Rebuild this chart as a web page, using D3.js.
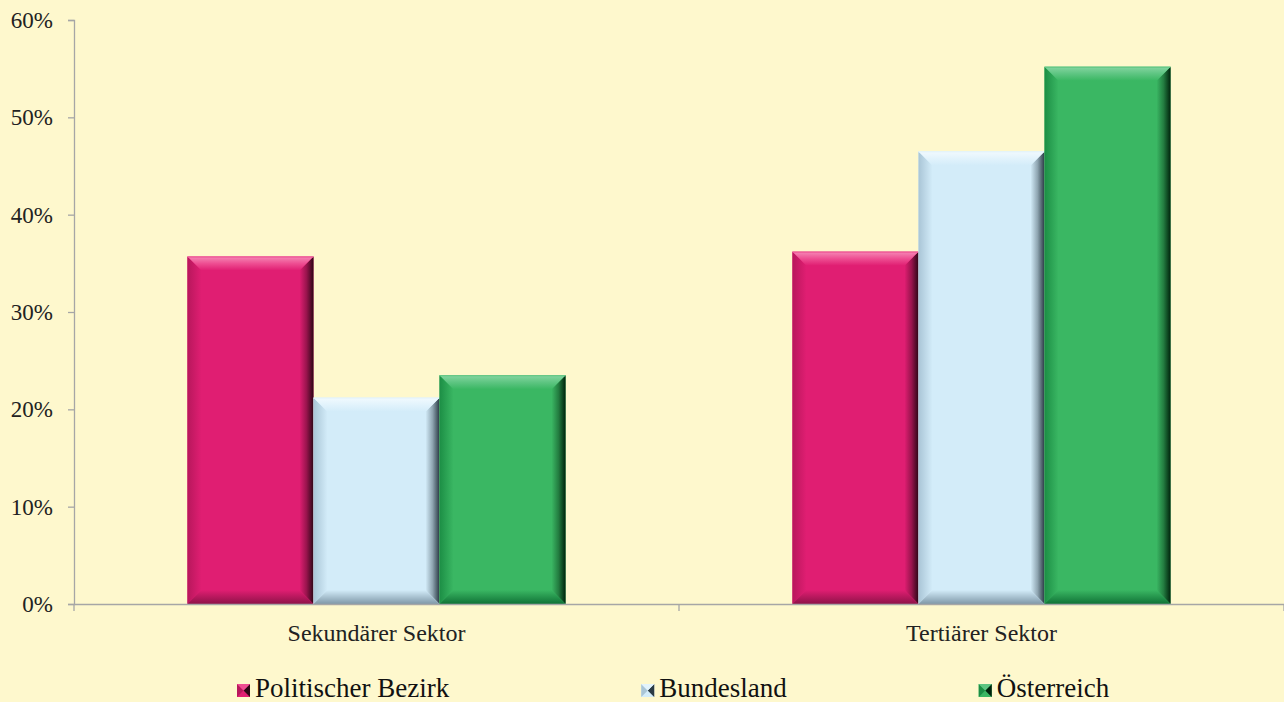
<!DOCTYPE html>
<html><head><meta charset="utf-8">
<script src="https://cdn.jsdelivr.net/npm/d3@7"></script>
<style>html,body{margin:0;padding:0;background:#FEF8CD;}svg{display:block;}</style>
</head><body>
<svg id="c" width="1284" height="702"></svg>
<script>
const categories = ["Sekundärer Sektor", "Tertiärer Sektor"];
const seriesNames = ["Politischer Bezirk", "Bundesland", "Österreich"];
const politischerBezirk = [35.7, 36.2];
const bundesland = [21.2, 46.5];
const oesterreich = [23.5, 55.2];
const yTicks = [0, 10, 20, 30, 40, 50, 60];

const seriesValues = [politischerBezirk, bundesland, oesterreich];
const palette = [
  {base:"#E01E72", top:"#EE4E92", hi:"#F58AB6", left:"#B8175C", right:"#2E0616", bottom:"#8E1248"},
  {base:"#D3ECF9", top:"#E2F3FC", hi:"#F2FAFE", left:"#A9C5D6", right:"#2A3A44", bottom:"#7F98A8"},
  {base:"#3AB763", top:"#5EC582", hi:"#86D6A2", left:"#1C8E45", right:"#00230C", bottom:"#107236"}
];

const svg = d3.select("#c");
const W = 1284, H = 702;
const m = {left:74, right:0, top:20, bottom:98};
const ih = H - m.top - m.bottom;
svg.append("rect").attr("width",W).attr("height",H).attr("fill","#FEF8CD");

const x0 = d3.scaleBand().domain(categories).range([m.left, W - m.right]).paddingInner(0).paddingOuter(0);
const bw = x0.bandwidth()/(3+1.8);
const groupOffset = (x0.bandwidth() - 3*bw)/2;
const y = d3.scaleLinear().domain([0,60]).range([m.top + ih, m.top]);

const defs = svg.append("defs");
palette.forEach((p,i)=>{
  const gr = defs.append("linearGradient").attr("id","gr"+i).attr("x1","0").attr("x2","1").attr("y1","0").attr("y2","0");
  gr.append("stop").attr("offset","0").attr("stop-color",p.base);
  gr.append("stop").attr("offset","0.5").attr("stop-color",d3.interpolateRgb(p.base,p.right)(0.4));
  gr.append("stop").attr("offset","1").attr("stop-color",p.right);
  const gl = defs.append("linearGradient").attr("id","gl"+i).attr("x1","0").attr("x2","1").attr("y1","0").attr("y2","0");
  gl.append("stop").attr("offset","0").attr("stop-color",p.left);
  gl.append("stop").attr("offset","1").attr("stop-color",p.base);
  const gt = defs.append("linearGradient").attr("id","gt"+i).attr("x1","0").attr("x2","0").attr("y1","0").attr("y2","1");
  gt.append("stop").attr("offset","0").attr("stop-color",p.hi);
  gt.append("stop").attr("offset","0.5").attr("stop-color",p.top);
  gt.append("stop").attr("offset","1").attr("stop-color",p.base);
  const gb = defs.append("linearGradient").attr("id","gb"+i).attr("x1","0").attr("x2","0").attr("y1","0").attr("y2","1");
  gb.append("stop").attr("offset","0").attr("stop-color",p.base);
  gb.append("stop").attr("offset","1").attr("stop-color",p.bottom);
});

const FONT = '"Liberation Serif"';

// Y axis
const yAxis = d3.axisLeft(y).tickValues(yTicks).tickSize(6).tickFormat(d=>d+"%");
const gy = svg.append("g").attr("transform",`translate(${m.left},0)`).call(yAxis);
gy.select(".domain").attr("stroke","#A6A6A6").attr("stroke-width",1.3);
gy.selectAll(".tick line").attr("stroke","#A6A6A6").attr("stroke-width",1.3);
gy.selectAll(".tick text").attr("x",-21).attr("dy","0.33em")
  .style("font-family",FONT).attr("font-size",23).attr("fill","#222");

// bars
const bev = 14;
categories.forEach((c,ci)=>{
  seriesValues.forEach((vals,si)=>{
    const v = vals[ci];
    const xL = x0(c) + groupOffset + si*bw, xR = xL + bw;
    const yT = y(v), yB = y(0);
    const g = svg.append("g");
    const b = Math.min(bev, (yB-yT)/2);
    g.append("rect").attr("x",xL).attr("y",yT).attr("width",bw).attr("height",yB-yT).attr("fill",palette[si].base);
    g.append("polygon").attr("points",[[xL,yT],[xL+b,yT+b],[xL+b,yB-b],[xL,yB]].join(" ")).attr("fill",`url(#gl${si})`);
    g.append("polygon").attr("points",[[xR,yT],[xR-b,yT+b],[xR-b,yB-b],[xR,yB]].join(" ")).attr("fill",`url(#gr${si})`);
    g.append("polygon").attr("points",[[xL,yT],[xR,yT],[xR-b,yT+b],[xL+b,yT+b]].join(" ")).attr("fill",`url(#gt${si})`);
    g.append("polygon").attr("points",[[xL,yB],[xR,yB],[xR-b,yB-b],[xL+b,yB-b]].join(" ")).attr("fill",`url(#gb${si})`);
    g.append("line").attr("x1",xL).attr("x2",xR).attr("y1",yT+0.5).attr("y2",yT+0.5).attr("stroke",palette[si].top).attr("stroke-width",1);
  });
});

// X axis
const xAxis = d3.axisBottom(x0).tickSize(0).tickSizeOuter(0);
const gx = svg.append("g").attr("transform",`translate(0,${y(0)})`).call(xAxis);
gx.select(".domain").attr("stroke","#A6A6A6").attr("stroke-width",1.3);
gx.selectAll(".tick text").attr("dy",0).attr("y",37)
  .style("font-family",FONT).attr("font-size",24).attr("fill","#222");
const bounds = [x0(categories[0]), x0(categories[1]), x0(categories[1])+x0.bandwidth()];
gx.selectAll(".bt").data(bounds).enter().append("line")
  .attr("x1",d=>d).attr("x2",d=>d).attr("y1",0).attr("y2",7).attr("stroke","#A6A6A6").attr("stroke-width",1.3);

// legend
const lg = svg.append("g");
let lx = 237;
const gap = 192;
seriesNames.forEach((n,i)=>{
  const g = lg.append("g").attr("transform",`translate(${lx},0)`);
  const s = 13, sy = 684;
  g.append("rect").attr("x",0).attr("y",sy).attr("width",s).attr("height",s).attr("fill",palette[i].base);
  g.append("polygon").attr("points",[[0,sy],[s/2,sy+s/2],[0,sy+s]].join(" ")).attr("fill",palette[i].left);
  g.append("polygon").attr("points",[[s,sy],[s/2,sy+s/2],[s,sy+s]].join(" ")).attr("fill",palette[i].right);
  g.append("polygon").attr("points",[[0,sy],[s,sy],[s/2,sy+s/2]].join(" ")).attr("fill",palette[i].top);
  const t = g.append("text").attr("x",s+5).attr("y",697).style("font-family",FONT)
    .attr("font-size",27).attr("fill","#111").text(n);
  const tw = t.node().getComputedTextLength();
  lx += s + 5 + tw + gap;
});
</script>
</body></html>
